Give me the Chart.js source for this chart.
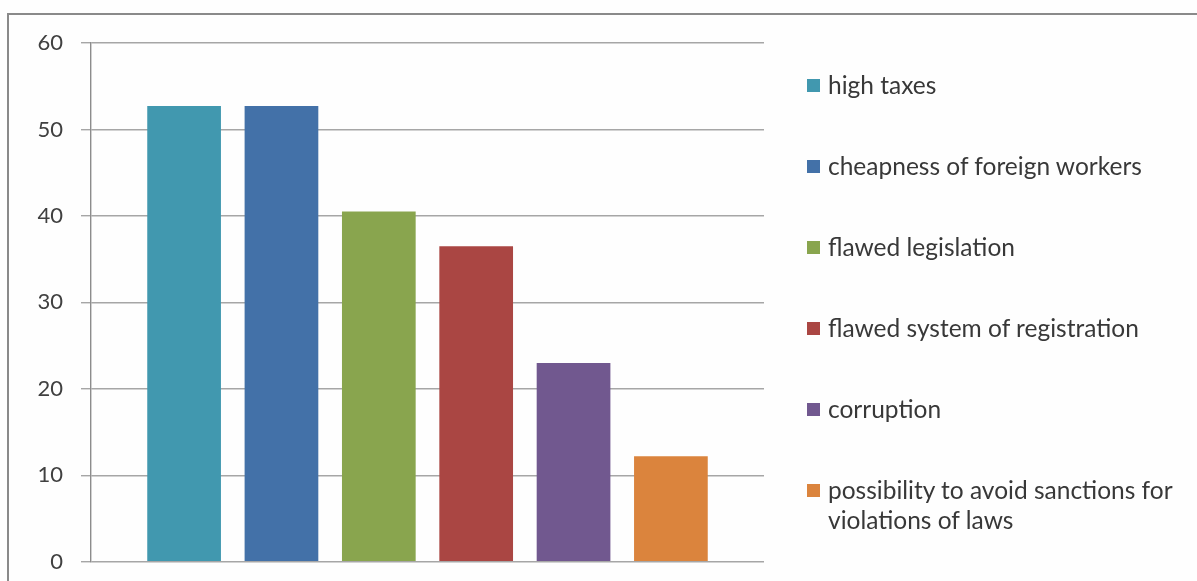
<!DOCTYPE html>
<html>
<head>
<meta charset="utf-8">
<script src="https://cdn.jsdelivr.net/npm/chart.js@4"></script>
<style>
  html,body{margin:0;padding:0;background:#fefefe;overflow:hidden}
  #wrap{position:relative;width:1197px;height:581px;overflow:hidden}
  #frame{position:absolute;left:7px;top:13px;width:1300px;height:700px;border-top:2px solid #8a8a8a;border-left:2px solid #8a8a8a}
  #cv{position:absolute;left:0;top:0}
  #legend{position:absolute;left:807px;top:70px;font-family:Lato,"Open Sans",sans-serif;font-size:24.5px;color:#383838}
  .item{display:flex;align-items:flex-start;height:81px;line-height:30px}
  .sw{width:13px;height:13px;flex-shrink:0;margin:9px 8px 0 0}
</style>
</head>
<body>
<div id="wrap">
  <div id="frame"></div>
  <canvas id="cv" width="1197" height="593"></canvas>
  <div id="legend"></div>
</div>
<script>
const series=['high taxes','cheapness of foreign workers','flawed legislation','flawed system of registration','corruption','possibility to avoid sanctions for violations of laws'];
const legendText=['high taxes','cheapness of foreign workers','flawed legislation','flawed system of registration','corruption','possibility to avoid sanctions for<br>violations of laws'];
const values=[52.7,52.7,40.5,36.5,23.0,12.2];
const colors=['#4198AF','#4371A8','#89A54E','#AA4643','#71588F','#DB843D'];
const yTicks=[0,10,20,30,40,50,60];

document.getElementById('legend').innerHTML=legendText.map((t,i)=>
  `<div class="item"><span class="sw" style="background:${colors[i]}"></span><span>${t}</span></div>`).join('');

new Chart(document.getElementById('cv'),{
  type:'bar',
  data:{labels:[''],datasets:series.map((s,i)=>({label:s,data:[values[i]],backgroundColor:colors[i],borderWidth:0}))},
  options:{
    responsive:false,animation:false,
    categoryPercentage:0.868,barPercentage:0.757,
    layout:{padding:{left:0,top:43,right:433,bottom:8}},
    plugins:{legend:{display:false},tooltip:{enabled:false}},
    scales:{
      x:{display:false},
      y:{
        min:0,max:60,
        afterBuildTicks:s=>{s.ticks=yTicks.map(v=>({value:v}));},
        afterFit:s=>{s.width=91;},
        grid:{color:'#a6a6a6',lineWidth:1.4,tickLength:10,drawTicks:true},
        border:{color:'#8c8c8c',width:1.4},
        ticks:{padding:18,color:'#404040',font:{family:'Lato',size:22}}
      }
    }
  }
});
</script>
</body>
</html>
